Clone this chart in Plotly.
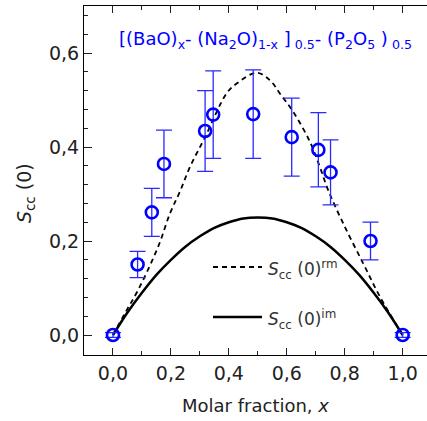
import plotly.graph_objects as go

# Experimental points
x_exp = [0.0, 0.085, 0.134, 0.176, 0.318, 0.346, 0.484, 0.617, 0.709, 0.751, 0.889, 1.0]
y_exp = [0.0, 0.150, 0.261, 0.364, 0.434, 0.469, 0.470, 0.421, 0.394, 0.346, 0.200, 0.0]
err_exp = [0.005, 0.028, 0.051, 0.072, 0.086, 0.093, 0.094, 0.083, 0.079, 0.069, 0.040, 0.005]

# S_cc(0)^rm curve (dashed)
x_rm = [0.0, 0.04, 0.087, 0.156, 0.197, 0.231, 0.266, 0.318, 0.392, 0.427, 0.496,
        0.542, 0.576, 0.622, 0.68, 0.714, 0.743, 0.795, 0.864, 0.922, 1.0]
y_rm = [0.0, 0.045, 0.096, 0.188, 0.259, 0.305, 0.358, 0.421, 0.514, 0.535, 0.558,
        0.542, 0.514, 0.475, 0.411, 0.358, 0.308, 0.237, 0.152, 0.081, 0.0]

# S_cc(0)^im curve (solid)
x_im = [0.0, 0.05, 0.1, 0.15, 0.2, 0.25, 0.3, 0.35, 0.4, 0.45, 0.5,
        0.55, 0.6, 0.65, 0.7, 0.75, 0.8, 0.85, 0.9, 0.95, 1.0]
y_im = [0.0, 0.048, 0.09, 0.128, 0.16, 0.188, 0.21, 0.228, 0.24, 0.248, 0.25,
        0.248, 0.24, 0.228, 0.21, 0.188, 0.16, 0.128, 0.09, 0.048, 0.0]

x_ticks = [0.0, 0.2, 0.4, 0.6, 0.8, 1.0]
y_ticks = [0.0, 0.2, 0.4, 0.6]

FONT = "DejaVu Sans"
BLUE = "#0000ff"

fig = go.Figure()
fig.add_trace(go.Scatter(x=x_im, y=y_im, mode="lines", line=dict(color="black", width=2.5, shape="spline"),
                         showlegend=False))
fig.add_trace(go.Scatter(x=x_rm, y=y_rm, mode="lines",
                         line=dict(color="black", width=1.8, dash="5px,4px", shape="spline"),
                         showlegend=False))
fig.add_trace(go.Scatter(x=x_exp, y=y_exp, mode="markers",
                         marker=dict(symbol="circle-open", size=12, color=BLUE, line=dict(width=2.6, color=BLUE)),
                         error_y=dict(type="data", array=err_exp, visible=True, color="#2a2aff",
                                      thickness=1.3, width=8),
                         showlegend=False))

W, H = 427, 421
L, R, T, B = 84, 0, 6, 66

fig.update_layout(
    width=W, height=H, autosize=False,
    margin=dict(l=L, r=R, t=T, b=B, pad=0),
    paper_bgcolor="white", plot_bgcolor="white",
    separators=", ",
    font=dict(family=FONT, color="#222222"),
    showlegend=False,
)
fig.update_xaxes(
    range=[-0.1, 1.084], tickvals=x_ticks, tickformat=".1f",
    showgrid=False, zeroline=False, showline=True, linecolor="black", linewidth=1.2,
    ticks="inside", ticklen=7, tickwidth=1.2, tickcolor="#222",
    minor=dict(tickvals=[0.1, 0.3, 0.5, 0.7, 0.9], ticks="inside", ticklen=4, tickwidth=1.2, tickcolor="#222"),
    mirror="allticks",
    ticklabelstandoff=1,
    tickfont=dict(size=19, family=FONT, color="#222"),
    title=dict(text="Molar fraction, <i>x</i>", font=dict(size=18, family=FONT, color="#222"), standoff=16),
)
fig.update_yaxes(
    range=[-0.0425, 0.7], tickvals=y_ticks, tickformat=".1f",
    showgrid=False, zeroline=False, showline=True, linecolor="black", linewidth=1.2,
    ticks="inside", ticklen=8, tickwidth=1.2, tickcolor="#222",
    minor=dict(tickvals=[0.04, 0.08, 0.12, 0.16, 0.24, 0.28, 0.32, 0.36, 0.44, 0.48, 0.52, 0.56, 0.64, 0.68],
               ticks="inside", ticklen=4, tickwidth=1.2, tickcolor="#222"),
    tickfont=dict(size=19, family=FONT, color="#222"),
)

def px_x(p):
    return (p - L) / (W - L - R)

def px_y(p):
    return 1 - (p - T) / (H - T - B)

# y-axis title
fig.add_annotation(xref="paper", yref="paper", x=px_x(25), y=px_y(193),
                   text="<i>S</i><sub>cc</sub> (0)", textangle=-90, showarrow=False,
                   font=dict(size=19, family=FONT, color="#222"), xanchor="center", yanchor="middle")

# chart label
fig.add_annotation(xref="paper", yref="paper", x=px_x(265), y=px_y(40),
                   text="[(BaO)<sub>x</sub>- (Na<sub>2</sub>O)<sub>1-x</sub> ]<sub> 0.5</sub>- (P<sub>2</sub>O<sub>5</sub> )<sub> 0.5</sub>",
                   showarrow=False, font=dict(size=18, family=FONT, color=BLUE),
                   xanchor="center", yanchor="middle")

# legend (manual)
fig.add_shape(type="line", xref="paper", yref="paper", x0=px_x(213), x1=px_x(262), y0=px_y(267), y1=px_y(267),
              line=dict(color="black", width=1.8, dash="5px,4px"))
fig.add_shape(type="line", xref="paper", yref="paper", x0=px_x(213), x1=px_x(262), y0=px_y(317), y1=px_y(317),
              line=dict(color="black", width=2.5))
fig.add_annotation(xref="paper", yref="paper", x=px_x(266), y=px_y(269), text="<i>S</i><sub>cc</sub> (0)<sup>rm</sup>",
                   showarrow=False, xanchor="left", yanchor="middle", font=dict(size=17, family=FONT, color="#333"))
fig.add_annotation(xref="paper", yref="paper", x=px_x(266), y=px_y(319), text="<i>S</i><sub>cc</sub> (0)<sup>im</sup>",
                   showarrow=False, xanchor="left", yanchor="middle", font=dict(size=17, family=FONT, color="#333"))

fig.write_html("out.html")
